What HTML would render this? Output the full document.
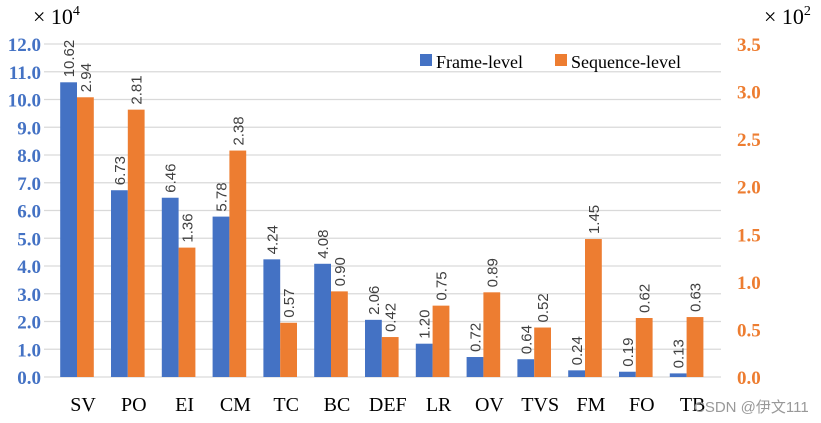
<!DOCTYPE html>
<html><head><meta charset="utf-8"><style>
body{margin:0;background:#fff;}
svg{display:block;}
</style></head><body>
<svg id="chart" width="821" height="423" xmlns="http://www.w3.org/2000/svg">
<g id="grid"></g><g id="bars"></g><g id="labels"></g>
<g>
<rect x="420" y="54" width="12" height="12" fill="#4472C4"/>
<text x="436" y="68" font-family="Liberation Serif, serif" font-size="18">Frame-level</text>
<rect x="555" y="54" width="12" height="12" fill="#ED7D31"/>
<text x="571" y="68" font-family="Liberation Serif, serif" font-size="18">Sequence-level</text>
</g>
<text x="33" y="24" font-family="Liberation Serif, serif" font-size="22">× 10<tspan font-size="14" dy="-9">4</tspan></text>
<text x="764" y="24" font-family="Liberation Serif, serif" font-size="22">× 10<tspan font-size="14" dy="-9">2</tspan></text>
<text x="694" y="412" font-family="Liberation Sans, Noto Sans CJK SC, sans-serif" font-size="15" fill="#999">CSDN @伊文111</text>
</svg>
<script>
const categories=["SV","PO","EI","CM","TC","BC","DEF","LR","OV","TVS","FM","FO","TB"];
const frameValues=[10.62,6.73,6.46,5.78,4.24,4.08,2.06,1.20,0.72,0.64,0.24,0.19,0.13];
const sequenceValues=[2.94,2.81,1.36,2.38,0.57,0.90,0.42,0.75,0.89,0.52,1.45,0.62,0.63];
const leftTicks=["0.0","1.0","2.0","3.0","4.0","5.0","6.0","7.0","8.0","9.0","10.0","11.0","12.0"];
const rightTicks=["0.0","0.5","1.0","1.5","2.0","2.5","3.0","3.5"];
const NS="http://www.w3.org/2000/svg";
const y0=377,yTop=44,bandStart=51.6,band=50.8,bw=16.8;
const yL=v=>y0-(v/12)*(y0-yTop);
const yR=v=>y0-(v/3.5)*(y0-yTop);
const xc=i=>bandStart+band*(i+0.5);
function mk(tag,attrs,parent){const e=document.createElementNS(NS,tag);for(const k in attrs)e.setAttribute(k,attrs[k]);document.getElementById(parent).appendChild(e);return e;}
leftTicks.forEach((t,i)=>{const v=parseFloat(t);
 const g=mk("line",{x1:44,x2:721,y1:yL(v),y2:yL(v),stroke:"#d9d9d9","stroke-width":1.3},"grid");
 
 
 const l=mk("text",{x:41,y:yL(v)+7,"text-anchor":"end","font-family":"Liberation Serif, serif","font-size":19,"font-weight":"bold",fill:"#4472C4"},"labels");
 l.textContent=t;
 
 
});
rightTicks.forEach(t=>{const v=parseFloat(t);
 const l=mk("text",{x:737,y:yR(v)+7,"font-family":"Liberation Serif, serif","font-size":19,"font-weight":"bold",fill:"#ED7D31"},"labels");
 l.textContent=t;
 
 
});
categories.forEach((c,i)=>{
 const x=xc(i);
 const b1=mk("rect",{x:x-bw,y:yL(frameValues[i]),width:bw,height:y0-yL(frameValues[i]),fill:"#4472C4"},"bars");
 
 
 const b2=mk("rect",{x:x,y:yR(sequenceValues[i]),width:bw,height:y0-yR(sequenceValues[i]),fill:"#ED7D31"},"bars");
 
 
 [[x-bw/2,yL(frameValues[i]),frameValues[i]],[x+bw/2,yR(sequenceValues[i]),sequenceValues[i]]].forEach((d,j)=>{
  const t=mk("text",{x:0,y:0,"font-family":"Liberation Sans, sans-serif","font-size":15,fill:"#404040",transform:`translate(${d[0]+5.5},${d[1]-5}) rotate(-90)`},"labels");
  t.textContent=d[2].toFixed(2);
  
  
 });
 const cl=mk("text",{x:x+6,y:411,"text-anchor":"middle","font-family":"Liberation Serif, serif","font-size":20,fill:"#000"},"labels");
 cl.textContent=c;
 
 
});
</script>
</body></html>
